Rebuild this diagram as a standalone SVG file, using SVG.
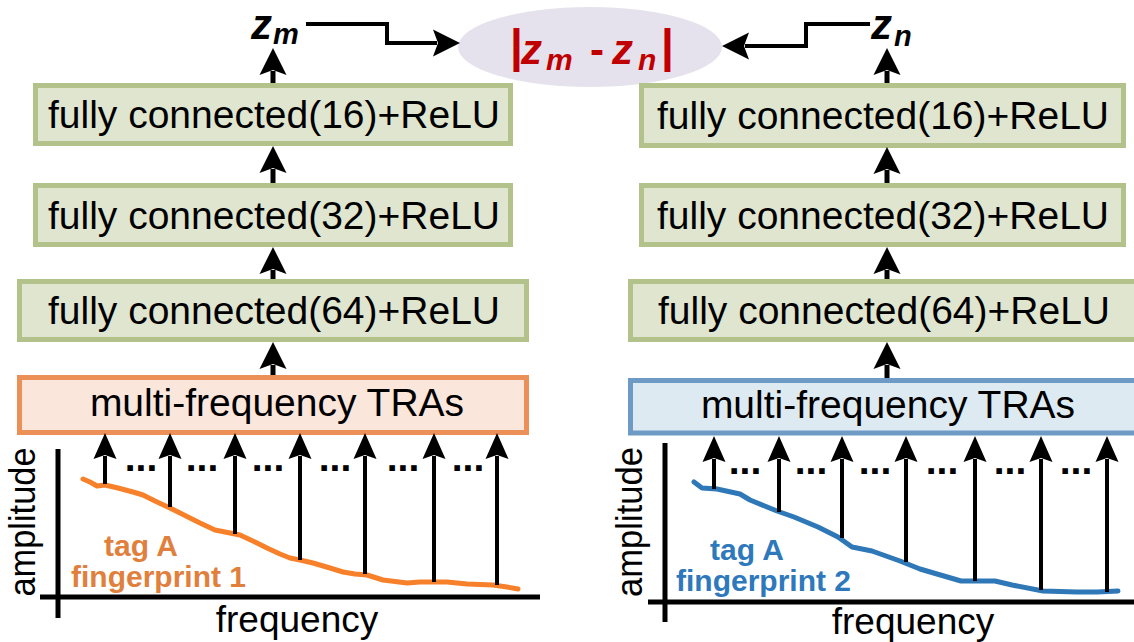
<svg xmlns="http://www.w3.org/2000/svg" width="1134" height="642" viewBox="0 0 1134 642">
<style>
text{font-family:"Liberation Sans",Arial,sans-serif;}
.fc rect{fill:#DFE5CF;stroke:#B3C18A;stroke-width:5;}
.lbl{font-size:39px;fill:#000;text-anchor:middle;}
.tra-o rect{fill:#FAE6DA;stroke:#EB9157;stroke-width:5;}
.tra-b rect{fill:#DEEAF2;stroke:#6E9BC6;stroke-width:5;}
.big{stroke:#000;stroke-width:5;fill:none;marker-end:url(#ahA);}
.con{stroke:#000;stroke-width:4;fill:none;marker-end:url(#ahA);}
.plt{stroke:#000;stroke-width:4;fill:none;marker-end:url(#ahB);}
.axis{stroke:#000;stroke-width:5;fill:none;}
.dots{font-size:39px;font-weight:bold;text-anchor:middle;}
.ax{font-size:37px;text-anchor:middle;}
.zi{font-weight:bold;font-style:italic;}
.tag{font-weight:bold;font-size:30px;}
</style>
<defs>
<marker id="ahA" viewBox="0 -14 28 28" markerWidth="28" markerHeight="28" markerUnits="userSpaceOnUse" refX="4" refY="0" orient="auto">
<path d="M0,-13.5 L27,0 L0,13.5 L5,0 Z" fill="#000"/>
</marker>
<marker id="ahB" viewBox="0 -12 27 24" markerWidth="27" markerHeight="24" markerUnits="userSpaceOnUse" refX="3" refY="0" orient="auto">
<path d="M0,-11.5 L26,0 L0,11.5 L4,0 Z" fill="#000"/>
</marker>
</defs>

<!-- output distance node -->
<g id="dist">
<ellipse cx="590" cy="47" rx="132" ry="40" fill="#E5E2EE"/>
<text fill="#C00000" font-weight="bold">
<tspan x="510" y="62" font-size="46">|</tspan>
<tspan x="521" y="64" font-size="42" font-style="italic">z</tspan>
<tspan x="546" y="70" font-size="30" font-style="italic">m</tspan>
<tspan x="590" y="64" font-size="42">-</tspan>
<tspan x="612" y="64" font-size="42" font-style="italic">z</tspan>
<tspan x="638" y="70" font-size="30" font-style="italic">n</tspan>
<tspan x="661" y="62" font-size="46">|</tspan>
</text>
</g>

<g id="zm"><text class="zi"><tspan x="251" y="39" font-size="42">z</tspan><tspan x="273" y="44" font-size="29">m</tspan></text></g>
<g id="zn"><text class="zi"><tspan x="871" y="39" font-size="42">z</tspan><tspan x="894" y="46" font-size="29">n</tspan></text></g>

<!-- left network -->
<g id="L-fc16" class="fc"><rect x="35.5" y="85.5" width="475" height="58"/><text class="lbl" x="274" y="128">fully connected(16)+ReLU</text></g>
<g id="L-fc32" class="fc"><rect x="35.5" y="185.5" width="475" height="59"/><text class="lbl" x="274" y="229">fully connected(32)+ReLU</text></g>
<g id="L-fc64" class="fc"><rect x="19.5" y="281.5" width="507" height="58"/><text class="lbl" x="274" y="324">fully connected(64)+ReLU</text></g>
<g id="L-tra" class="tra-o"><rect x="19.5" y="377.5" width="507" height="55"/><text class="lbl" x="277" y="416">multi-frequency TRAs</text></g>

<!-- right network -->
<g id="R-fc16" class="fc"><rect x="641.5" y="85.5" width="482" height="60"/><text class="lbl" x="883" y="129">fully connected(16)+ReLU</text></g>
<g id="R-fc32" class="fc"><rect x="641.5" y="185.5" width="482" height="59"/><text class="lbl" x="883" y="229">fully connected(32)+ReLU</text></g>
<g id="R-fc64" class="fc"><rect x="630.5" y="281.5" width="520" height="58"/><text class="lbl" x="884" y="324">fully connected(64)+ReLU</text></g>
<g id="R-tra" class="tra-b"><rect x="630.5" y="380.5" width="520" height="52.5"/><text class="lbl" x="888" y="418">multi-frequency TRAs</text></g>

<!-- left plot -->
<g id="L-plot">
<path class="axis" d="M58,449 V618 M40,597 H540"/>
<text class="ax" transform="translate(35,522) rotate(-90)" textLength="149" lengthAdjust="spacingAndGlyphs">amplitude</text>
<text class="ax" x="297" y="632">frequency</text>
<polyline fill="none" stroke="#F7812A" stroke-width="5" stroke-linejoin="round" stroke-linecap="round" points="83,479 90,482 97,486 105,485 118,488 133,492 143,495 155,501 170,508 180,513 200,523 215,530 230,533 240,535 255,542 267,548 280,554 290,558 300,560 313,563 330,568 343,572 355,574 367,575 383,580 407,583 420,582 447,582 467,584 493,585 507,587 518,589"/>
<text class="tag" fill="#E17F3D" x="104" y="556">tag A</text>
<text class="tag" fill="#E17F3D" x="71" y="587">fingerprint 1</text>
<g class="dots"><text x="141" y="471">...</text><text x="202" y="471">...</text><text x="268" y="471">...</text><text x="335" y="471">...</text><text x="403" y="471">...</text><text x="468" y="471">...</text></g>
</g>

<!-- right plot -->
<g id="R-plot">
<path class="axis" d="M665,443 V622 M648,602 H1134"/>
<text class="ax" transform="translate(642,522) rotate(-90)" textLength="150" lengthAdjust="spacingAndGlyphs">amplitude</text>
<text class="ax" x="913" y="634">frequency</text>
<polyline fill="none" stroke="#2F78B8" stroke-width="5" stroke-linejoin="round" stroke-linecap="round" points="694,482 702,488 717,489 740,494 750,500 777,511 794,517 818,527 838,537 852,547 872,551 900,561 920,569 937,574 961,581 978,581 995,581 1012,585 1043,591 1077,592 1097,592 1118,591"/>
<text class="tag" fill="#2E78BC" x="710" y="560">tag A</text>
<text class="tag" fill="#2E78BC" x="676" y="591">fingerprint 2</text>
<g class="dots"><text x="745" y="474">...</text><text x="811" y="474">...</text><text x="875" y="474">...</text><text x="942" y="474">...</text><text x="1010" y="474">...</text><text x="1076" y="474">...</text></g>
</g>

<!-- connectors -->
<g id="connectors">
<path class="big" d="M273,83 V71"/>
<path class="big" d="M273,183 V169"/>
<path class="big" d="M273,279 V270"/>
<path class="big" d="M273,375 V365"/>
<path class="big" d="M887,83 V71"/>
<path class="big" d="M887,183 V170"/>
<path class="big" d="M887,279 V270"/>
<path class="big" d="M887,378 V365"/>
<path class="con" d="M306,24 H387 V43 H437"/>
<path class="con" d="M870,24 H806 V46 H745"/>
<path class="plt" d="M105,484 V456"/>
<path class="plt" d="M170,507 V456"/>
<path class="plt" d="M235,534 V456"/>
<path class="plt" d="M300,560 V456"/>
<path class="plt" d="M365,574 V456"/>
<path class="plt" d="M434,582 V456"/>
<path class="plt" d="M497,585 V456"/>
<path class="plt" d="M714,489 V459"/>
<path class="plt" d="M779,512 V459"/>
<path class="plt" d="M842,538 V459"/>
<path class="plt" d="M906,562 V459"/>
<path class="plt" d="M975,581 V459"/>
<path class="plt" d="M1041,590 V459"/>
<path class="plt" d="M1107,592 V459"/>
</g>
</svg>
